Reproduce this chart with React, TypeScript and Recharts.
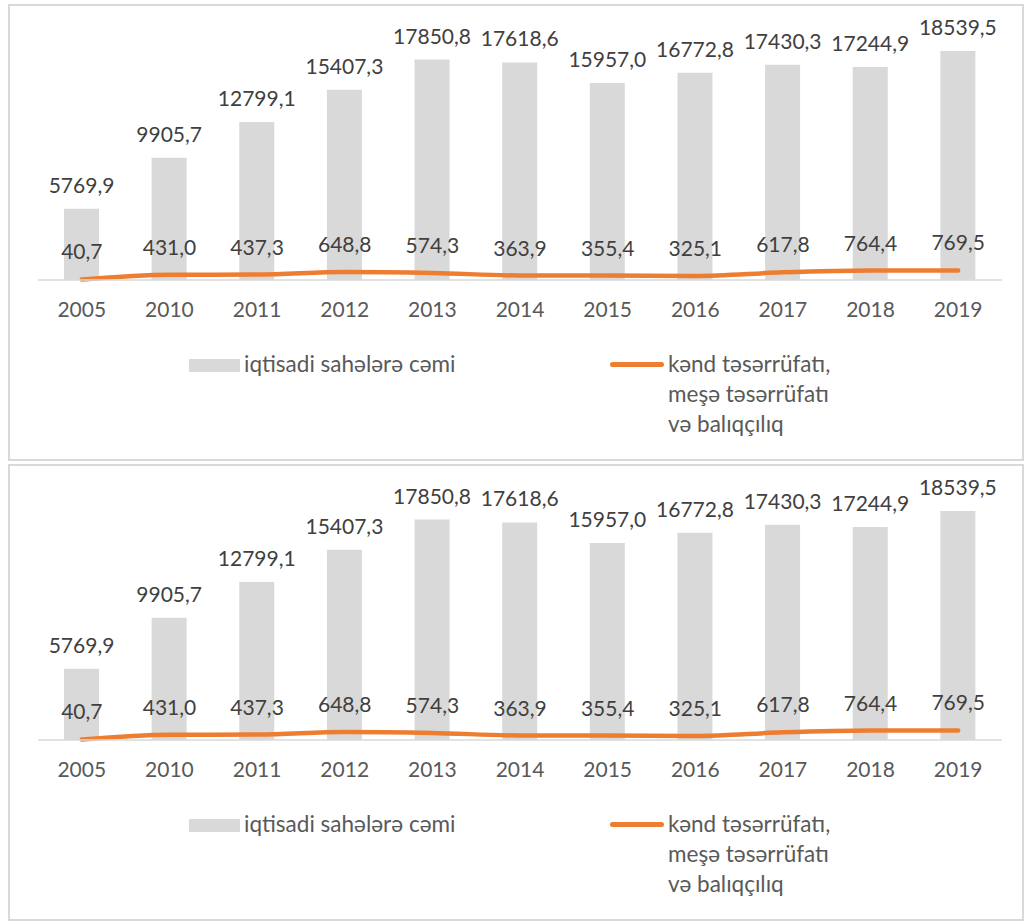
import React from 'react';
import { ComposedChart, Bar, Line, XAxis, YAxis, LabelList, Legend } from 'recharts';

const years = ['2005', '2010', '2011', '2012', '2013', '2014', '2015', '2016', '2017', '2018', '2019'];
const totalInvest = [5769.9, 9905.7, 12799.1, 15407.3, 17850.8, 17618.6, 15957.0, 16772.8, 17430.3, 17244.9, 18539.5];
const agriInvest = [40.7, 431.0, 437.3, 648.8, 574.3, 363.9, 355.4, 325.1, 617.8, 764.4, 769.5];

const totalName = 'iqtisadi sahələrə cəmi';
const agriName = 'kənd təsərrüfatı,\nmeşə təsərrüfatı\nvə balıqçılıq';

const chartData = years.map((year, i) => ({
  year,
  total: totalInvest[i],
  agri: agriInvest[i],
}));

const FONT = 'Lato, "Open Sans", sans-serif';
const fmt = (v: any) => Number(v).toFixed(1).replace('.', ',');

const LegendBox = (props: any) => {
  const items = props.payload || [];
  const bar = items.find((p: any) => p.dataKey === 'total');
  const line = items.find((p: any) => p.dataKey === 'agri');
  return (
    <div style={{ position: 'relative', width: 720, height: 100, fontFamily: FONT, fontSize: 22.5, color: '#595959' }}>
      {bar && (
        <>
          <div style={{ position: 'absolute', left: 19, top: 13, width: 51, height: 13, background: bar.color }} />
          <div style={{ position: 'absolute', left: 74, top: 3, lineHeight: '30px', whiteSpace: 'nowrap' }}>{bar.value}</div>
        </>
      )}
      {line && (
        <>
          <div style={{ position: 'absolute', left: 440, top: 16, width: 54, height: 5, borderRadius: 3, background: line.color }} />
          <div style={{ position: 'absolute', left: 498, top: 3, lineHeight: '30px', whiteSpace: 'pre' }}>{line.value}</div>
        </>
      )}
    </div>
  );
};

const InvestChart: React.FC<{ top: number }> = ({ top }) => (
  <div
    style={{
      position: 'absolute',
      left: 8,
      top,
      width: 1016,
      height: 457,
      border: '2px solid #d9d9d9',
      boxSizing: 'border-box',
      background: '#fff',
    }}
  >
    <ComposedChart width={1012} height={453} data={chartData} margin={{ top: 27, right: 20, bottom: 139, left: 28 }}>
      <XAxis
        dataKey="year"
        axisLine={{ stroke: '#d9d9d9', strokeWidth: 1.5 }}
        tickLine={false}
        tickMargin={16}
        height={40}
        interval={0}
        tick={{ fontFamily: FONT, fontSize: 21, fill: '#595959' }}
      />
      <YAxis hide domain={[0, 20000]} />
      <Legend
        layout="horizontal"
        verticalAlign="middle"
        align="center"
        content={<LegendBox />}
        wrapperStyle={{ top: 340, left: 160, width: 720, height: 100 }}
      />
      <Bar dataKey="total" name={totalName} fill="#d9d9d9" barSize={35} isAnimationActive={false}>
        <LabelList
          dataKey="total"
          position="top"
          offset={16}
          formatter={fmt}
          style={{ fontFamily: FONT, fontSize: 21, fill: '#404040' }}
        />
      </Bar>
      <Line
        dataKey="agri"
        name={agriName}
        type="monotone"
        stroke="#ed7d31"
        strokeWidth={4.5}
        strokeLinecap="round"
        dot={false}
        activeDot={false}
        isAnimationActive={false}
      >
        <LabelList
          dataKey="agri"
          position="top"
          offset={20}
          formatter={fmt}
          style={{ fontFamily: FONT, fontSize: 21, fill: '#404040' }}
        />
      </Line>
    </ComposedChart>
  </div>
);

export default function App() {
  return (
    <div style={{ position: 'absolute', left: 0, top: 0, width: 1025, height: 922, overflow: 'hidden' }}>
      <InvestChart top={4} />
      <InvestChart top={464} />
    </div>
  );
}
